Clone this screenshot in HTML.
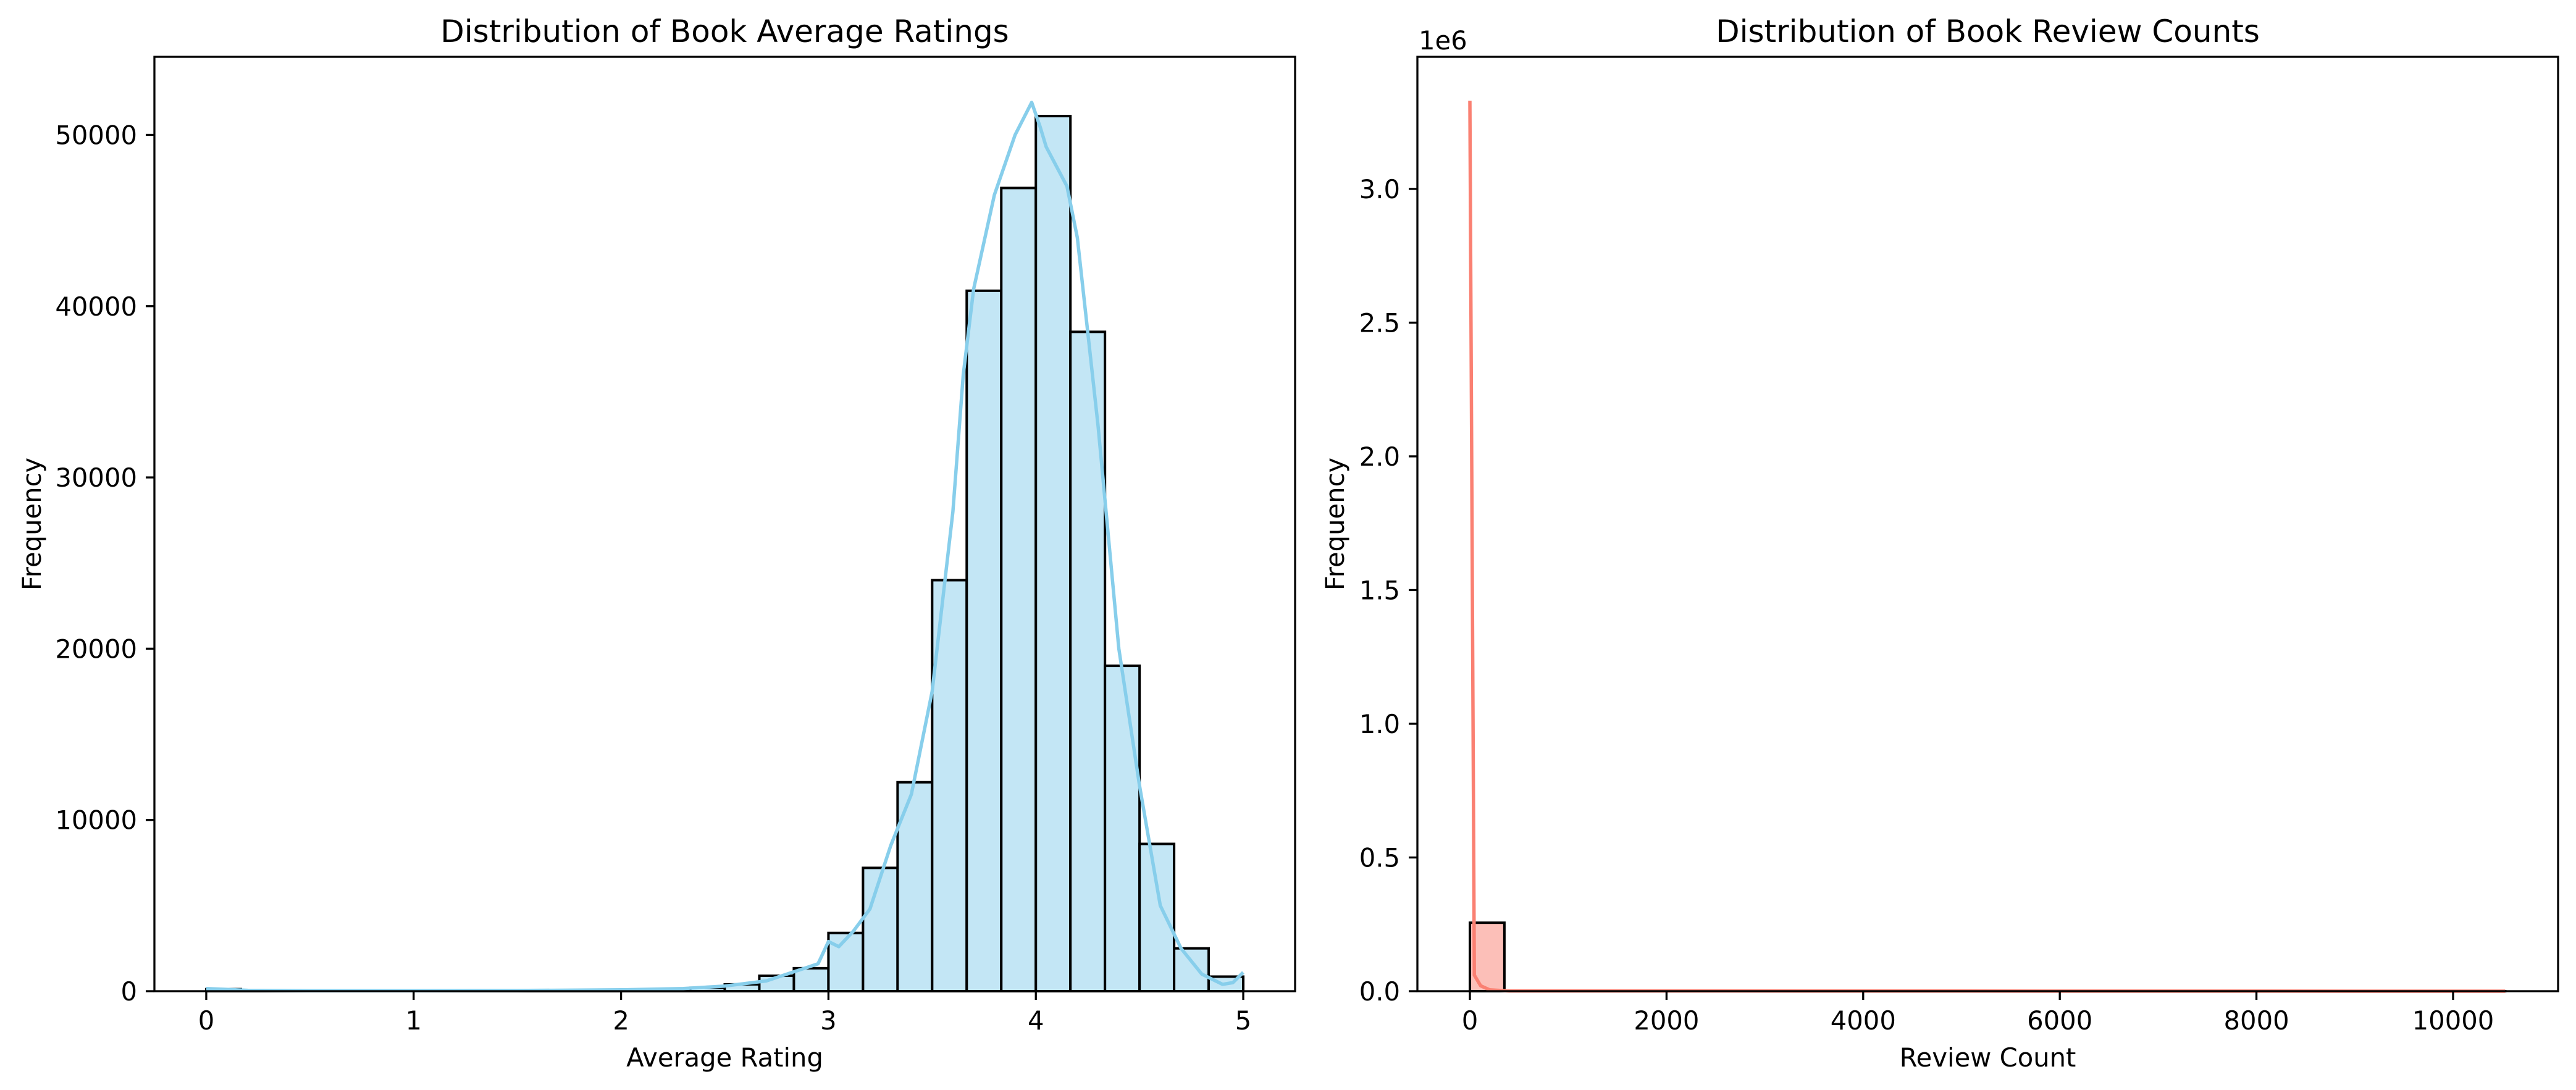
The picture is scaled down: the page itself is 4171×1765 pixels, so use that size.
<!DOCTYPE html>
<html><head><meta charset="utf-8"><style>
html,body{margin:0;padding:0;background:#fff;}
svg{display:block;font-family:"DejaVu Sans","Liberation Sans",sans-serif;}
</style></head><body>
<svg id="fig" width="4171" height="1765" viewBox="0 0 4171 1765" xmlns="http://www.w3.org/2000/svg">
<rect width="4171" height="1765" fill="#fff"/>
<g id="left"></g>
<g id="right"></g>
</svg>
<script>
// Left chart data
const ratingBinEdgesStart = 0, ratingBinEdgesEnd = 5, ratingBinCount = 30;
const ratingCounts = [120,20,10,10,10,10,20,20,30,30,40,40,50,100,200,400,900,1340,3400,7200,12200,24000,40900,46900,51100,38500,19000,8600,2500,850];
const ratingKdeX = [0,0.2,0.5,1,1.5,2,2.3,2.5,2.7,2.8,2.95,3.0,3.05,3.12,3.2,3.3,3.4,3.5,3.6,3.65,3.7,3.8,3.9,3.98,4.02,4.05,4.15,4.2,4.3,4.4,4.5,4.6,4.7,4.8,4.9,4.95,5.0];
const ratingKdeY = [150,50,30,30,40,80,150,300,600,1000,1600,2900,2600,3500,4800,8500,11500,17500,28000,36000,41000,46500,50000,51900,50500,49300,47000,44000,33000,20000,12000,5000,2500,1000,400,500,1100];
const ratingXTicks = [0,1,2,3,4,5];
const ratingYTicks = [0,10000,20000,30000,40000,50000];
// Right chart data
const reviewMax = 10530, reviewBinCount = 30;
const reviewCounts = [256000,300,80,30,20,10,8,5,4,3,2,2,1,1,1,1,1,1,1,1,1,1,1,1,1,1,1,1,1,1];
const reviewKdeX = [0,45,110,200,400,10530];
const reviewKdeY = [3330000,60000,20000,5000,1000,0];
const reviewXTicks = [0,2000,4000,6000,8000,10000];
const reviewYTicks = [0,0.5,1.0,1.5,2.0,2.5,3.0];

const NS="http://www.w3.org/2000/svg";
function mk(parent,tag,attrs,text){const e=document.createElementNS(NS,tag);for(const k in attrs)e.setAttribute(k,attrs[k]);if(text!==undefined)e.textContent=text;parent.appendChild(e);return e;}

function drawPanel(g,o){
  const sx=v=>o.x0+(v-o.xmin)/(o.xmax-o.xmin)*(o.x1-o.x0);
  const sy=v=>o.y1-(v-o.ymin)/(o.ymax-o.ymin)*(o.y1-o.y0);
  const bw=(o.binEnd-o.binStart)/o.counts.length;
  o.counts.forEach((c,i)=>{
    const xa=sx(o.binStart+i*bw), xb=sx(o.binStart+(i+1)*bw), yt=sy(c);
    const r=mk(g,'rect',{x:xa,y:yt,width:xb-xa,height:o.y1-yt,fill:o.fill,stroke:'#000','stroke-width':4});
    
    
  });
  const d=o.kx.map((x,i)=>(i?'L':'M')+sx(x).toFixed(1)+','+sy(o.ky[i]).toFixed(1)).join(' ');
  const p=mk(g,'path',{d:d,fill:'none',stroke:o.line,'stroke-width':5.5,'stroke-linejoin':'round'});
  
  
  const fr=mk(g,'rect',{x:o.x0,y:o.y0,width:o.x1-o.x0,height:o.y1-o.y0,fill:'none',stroke:'#000','stroke-width':3.3});
  
  
  o.xt.forEach((t,i)=>{
    const x=sx(t);
    mk(g,'line',{x1:x,y1:o.y1,x2:x,y2:o.y1+14,stroke:'#000','stroke-width':3.3});
    const tx=mk(g,'text',{x:x,y:o.y1+62,'font-size':41.7,'text-anchor':'middle'},o.xtl[i]);
    
    
  });
  o.yt.forEach((t,i)=>{
    const y=sy(t);
    mk(g,'line',{x1:o.x0-14,y1:y,x2:o.x0,y2:y,stroke:'#000','stroke-width':3.3});
    const tx=mk(g,'text',{x:o.x0-28,y:y+15,'font-size':41.7,'text-anchor':'end'},o.ytl[i]);
    
    
  });
  const ti=mk(g,'text',{x:(o.x0+o.x1)/2,y:68,'font-size':50,'text-anchor':'middle'},o.title);
  
  
  const xl=mk(g,'text',{x:(o.x0+o.x1)/2,y:1727,'font-size':41.7,'text-anchor':'middle'},o.xlabel);
  
  
  const yl=mk(g,'text',{x:0,y:0,'font-size':41.7,'text-anchor':'middle',transform:`translate(${o.ylx},${(o.y0+o.y1)/2}) rotate(-90)`},'Frequency');
  
  
}

drawPanel(document.getElementById('left'),{
  x0:250,x1:2097,y0:92,y1:1605,xmin:-0.25,xmax:5.25,ymin:0,ymax:54560,
  binStart:ratingBinEdgesStart,binEnd:ratingBinEdgesEnd,counts:ratingCounts,
  kx:ratingKdeX,ky:ratingKdeY,fill:'#c3e6f5',line:'#87ceeb',
  xt:ratingXTicks,xtl:ratingXTicks.map(String),yt:ratingYTicks,ytl:ratingYTicks.map(String),
  title:'Distribution of Book Average Ratings',xlabel:'Average Rating',ylx:66
});
drawPanel(document.getElementById('right'),{
  x0:2295,x1:4142,y0:92,y1:1605,xmin:-534,xmax:11068,ymin:0,ymax:3494000,
  binStart:0,binEnd:reviewMax,counts:reviewCounts,
  kx:reviewKdeX,ky:reviewKdeY,fill:'#fcbfb8',line:'#fa8072',
  xt:reviewXTicks,xtl:reviewXTicks.map(String),yt:reviewYTicks.map(v=>v*1e6),ytl:reviewYTicks.map(v=>v.toFixed(1)),
  title:'Distribution of Book Review Counts',xlabel:'Review Count',ylx:2176
});
const off=mk(document.getElementById('right'),'text',{x:2297,y:80,'font-size':41.7},'1e6');


</script>
</body></html>
